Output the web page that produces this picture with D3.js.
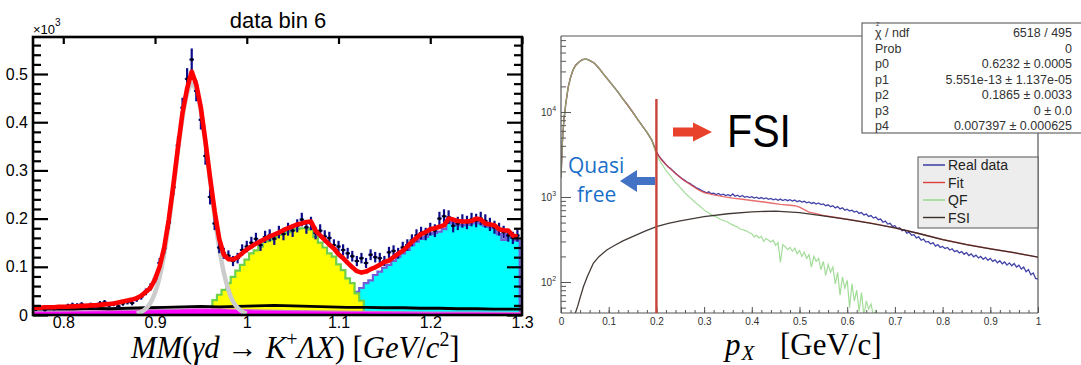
<!DOCTYPE html>
<html><head><meta charset="utf-8">
<script src="https://cdn.jsdelivr.net/npm/d3@7/dist/d3.min.js"></script>
<style>html,body{margin:0;padding:0;background:#fff;overflow:hidden}</style>
</head><body><svg id="chart" width="1081" height="365"></svg>
<script>
// ================= LEFT PANEL DATA (missing mass, bins of 0.005) =================
const mmFirstCenter = 0.770;
const mmBinWidth = 0.005;
const mmData = [
 0.012,0.014,0.011,0.015,0.013,0.016,
 0.014,0.019,0.021,0.020,0.022,0.019,0.021,0.017,0.024,0.026,
 0.020,0.023,0.018,0.024,0.027,0.025,0.033,0.038,0.048,0.058,
 0.075,0.108,0.138,0.192,0.265,0.352,0.430,0.490,0.530,0.465,
 0.405,0.330,0.245,0.190,0.140,0.128,0.123,0.112,0.118,0.135,
 0.142,0.150,0.158,0.145,0.162,0.165,0.158,0.172,0.168,0.178,
 0.175,0.185,0.198,0.182,0.190,0.170,0.175,0.163,0.160,0.145,
 0.142,0.135,0.128,0.122,0.112,0.118,0.108,0.125,0.120,0.118,
 0.112,0.130,0.133,0.128,0.140,0.145,0.155,0.165,0.170,0.168,
 0.178,0.175,0.200,0.205,0.203,0.185,0.190,0.195,0.192,0.198,
 0.196,0.200,0.195,0.188,0.182,0.178,0.172,0.165,0.160,0.165];
const mmFit = [
 0.015,0.015,0.016,0.016,0.016,0.017,
 0.017,0.017,0.018,0.018,0.019,0.019,0.020,0.020,0.021,0.022,
 0.023,0.024,0.026,0.028,0.030,0.032,0.035,0.040,0.048,0.056,
 0.074,0.100,0.140,0.198,0.270,0.348,0.420,0.470,0.505,0.478,
 0.430,0.360,0.285,0.215,0.158,0.125,0.116,0.115,0.120,0.128,
 0.136,0.142,0.148,0.153,0.158,0.163,0.167,0.171,0.176,0.180,
 0.184,0.188,0.190,0.193,0.194,0.175,0.165,0.156,0.146,0.138,
 0.126,0.118,0.108,0.099,0.091,0.088,0.090,0.095,0.099,0.104,
 0.110,0.113,0.120,0.127,0.133,0.142,0.152,0.160,0.168,0.172,
 0.178,0.180,0.183,0.186,0.200,0.198,0.195,0.194,0.194,0.195,
 0.200,0.198,0.190,0.188,0.186,0.178,0.176,0.175,0.165,0.162];
const yellowFirstCenter = 0.965;
const yellowVals = [0.031,0.042,0.052,0.066,0.079,0.092,0.104,0.115,0.128,0.134,0.142,0.152,0.156,0.162,0.166,0.170,0.172,0.176,0.178,0.180,0.180,0.177,0.162,0.150,0.140,0.128,0.121,0.105,0.093,0.076,0.066,0.045,0.030];
const cyanFirstCenter = 1.085;
const cyanVals = [0.012,0.015,0.017,0.020,0.028,0.038,0.042,0.048,0.056,0.066,0.072,0.083,0.090,0.098,0.104,0.112,0.121,0.128,0.135,0.145,0.152,0.158,0.162,0.168,0.170,0.173,0.178,0.194,0.190,0.187,0.186,0.187,0.190,0.194,0.190,0.185,0.183,0.180,0.168,0.156,0.168,0.160,0.155];
const gausFirst = 0.880;
const gausVals = [0.003,0.006,0.013,0.025,0.046,0.079,0.127,0.190,0.264,0.341,0.410,0.460,0.480,0.466,0.422,0.355,0.279,0.204,0.139,0.088,0.052,0.028,0.015,0.007,0.003];
const bkgX = [0.767,0.79,0.81,0.83,0.85,0.87,0.89,0.91,0.93,0.95,0.97,0.99,1.01,1.03,1.05,1.07,1.09,1.11,1.13,1.15,1.17,1.19,1.21,1.23,1.25,1.27,1.29,1.30];
const bkgY = [0.012,0.013,0.012,0.014,0.013,0.014,0.015,0.016,0.017,0.018,0.017,0.018,0.019,0.020,0.019,0.018,0.017,0.016,0.016,0.015,0.015,0.014,0.014,0.013,0.013,0.012,0.012,0.012];
const magX = [0.767,0.80,0.85,0.90,0.94,0.97,1.00,1.05,1.10,1.15,1.20,1.25,1.30];
const magY = [0.007,0.008,0.009,0.011,0.013,0.013,0.011,0.009,0.008,0.007,0.006,0.006,0.005];
const mmXTicks = [0.8,0.9,1.0,1.1,1.2,1.3];
const mmYTicks = [0,0.1,0.2,0.3,0.4,0.5];

// ================= RIGHT PANEL DATA (p_X, log scale) =================
// shared peak region where Real data, Fit and QF coincide
const peakPx  = [0,0.003,0.006,0.01,0.015,0.02,0.025,0.03,0.035,0.04,0.045,0.05,0.055,0.06,0.07,0.08,0.09,0.1,0.11,0.12,0.13,0.14,0.15,0.16,0.17,0.18,0.19];
const peakVal = [1700,4500,8000,12500,19500,25500,31000,35000,37500,39500,41200,41800,41500,40500,37500,32500,27500,23500,20000,17000,14200,12000,10000,8300,6900,5800,4700];
// real data from p=0.2 to 1.0 in 0.005 steps
const dataTailStart = 0.2;
const dataTailVal = [3400,3050,2800,2600,2420,2260,2150,2030,1900,1800,1710,1620,1560,1490,1450,1380,1330,1270,1240,1190,
 1160,1120,1150,1095,1110,1070,1100,1055,1080,1040,
 1065,1030,1085,1020,1050,1005,1040,990,1015,985,
 1010,970,995,960,985,950,975,940,960,925,
 950,915,945,910,935,905,930,895,920,880,
 905,870,890,855,875,840,860,825,850,815,
 830,790,810,770,790,745,770,725,745,700,
 720,685,700,665,680,640,655,615,630,590,
 605,565,580,540,550,505,520,480,490,450,
 460,425,435,400,410,375,385,355,360,330,
 340,310,320,295,300,280,290,265,275,255,
 262,248,255,238,246,228,235,220,228,212,
 222,205,214,198,207,192,200,185,195,180,
 190,175,182,168,178,164,172,158,168,155,
 165,150,158,142,150,132,140,122,128,110,
 108];
// QF from p=0.2 in 0.005 steps
const qfTailStart = 0.2;
const qfTailVal = [3150,2800,2500,2270,2050,1900,1750,1610,1480,1390,
 1290,1200,1120,1050,990,935,880,830,790,745,
 705,670,650,620,600,585,565,540,535,515,
 505,485,470,455,445,420,415,405,395,380,
 370,340,355,330,345,300,325,310,295,310,
 270,290,170,275,260,240,255,230,250,215,
 235,200,225,190,210,150,200,175,190,140,
 175,120,160,130,150,95,130,70,115,85,
 105,50,95,60,80,45,75,40,60,48,
 55,40,46,35];
const fitTailPx  = [0.2,0.21,0.22,0.23,0.24,0.25,0.26,0.27,0.28,0.29,0.30,0.32,0.34,0.36,0.38,0.40,0.42,0.44,0.46,0.48,0.49,0.50,0.51,0.52,0.53,0.55,0.6,0.65,0.7,0.75,0.8,0.85,0.9,0.95,1.0];
const fitTailVal = [3350,2780,2400,2140,1890,1700,1540,1420,1300,1200,1130,1060,1010,970,940,910,880,850,820,800,790,760,710,665,645,605,548,492,433,372,316,276,246,221,196];
const fsiPx  = [0.03,0.035,0.04,0.047,0.055,0.068,0.08,0.096,0.11,0.13,0.15,0.175,0.2,0.225,0.25,0.3,0.35,0.4,0.45,0.5,0.55,0.6,0.65,0.7,0.75,0.8,0.85,0.9,0.95,1.0];
const fsiVal = [43,52,65,88,115,167,200,238,265,305,341,395,447,490,525,587,635,670,682,655,600,545,490,432,372,316,276,246,221,196];
const pxTicks = [0,0.1,0.2,0.3,0.4,0.5,0.6,0.7,0.8,0.9,1.0];
const logMajor = [100,1000,10000];
const statsRows = [["chi","6518 / 495"],["Prob","0"],["p0","0.6232 ± 0.0005"],["p1","5.551e-13 ± 1.137e-05"],["p2","0.1865 ± 0.0033"],["p3","0 ± 0.0"],["p4","0.007397 ± 0.000625"]];
const legendItems = [["Real data","#2d2d9e"],["Fit","#e03c3c"],["QF","#8fd884"],["FSI","#3a302a"]];
const cutPx = 0.2;

// ================= DRAWING =================
const svg = d3.select("#chart");
const defs = svg.append("defs");
const SANS = "'Liberation Sans', Arial, Helvetica, sans-serif";
const SERIF = "'Liberation Serif', 'Times New Roman', serif";

// ---------- left ----------
const xL = d3.scaleLinear().domain([0.767,1.3]).range([33,522]);
const yL = d3.scaleLinear().domain([0,0.5768]).range([315,37]);
defs.append("clipPath").attr("id","clipL").append("rect").attr("x",33).attr("y",37).attr("width",489).attr("height",278);
const gL = svg.append("g").attr("clip-path","url(#clipL)");

function stepPoints(first, vals){
  const pts=[[first-mmBinWidth/2,0]];
  vals.forEach((v,i)=>{const c=first+mmBinWidth*i; pts.push([c-mmBinWidth/2,v],[c+mmBinWidth/2,v]);});
  pts.push([first+mmBinWidth*(vals.length-1)+mmBinWidth/2,0]);
  return pts;
}
const areaL = d3.area().x(d=>xL(d[0])).y0(yL(0)).y1(d=>yL(d[1]));
const lineL = d3.line().x(d=>xL(d[0])).y(d=>yL(d[1]));

const cyanPts = stepPoints(cyanFirstCenter, cyanVals);
gL.append("path").attr("d",areaL(cyanPts)).attr("fill","#00ffff");
gL.append("path").attr("d",lineL(cyanPts)).attr("fill","none").attr("stroke","#6f5fd9").attr("stroke-width",2.2);
const yelPts = stepPoints(yellowFirstCenter, yellowVals);
gL.append("path").attr("d",areaL(yelPts)).attr("fill","#ffff00");
gL.append("path").attr("d",lineL(yelPts)).attr("fill","none").attr("stroke","#6fd14a").attr("stroke-width",2.2);

const magPts = magX.map((x,i)=>[x,magY[i]]);
gL.append("path").attr("d",areaL(magPts)).attr("fill","#ff00ff");
gL.append("path").attr("d",lineL(magPts)).attr("fill","none").attr("stroke","#d070d0").attr("stroke-width",1.2);
const bkgPts = bkgX.map((x,i)=>[x,bkgY[i]]);
gL.append("path").attr("d",lineL(bkgPts)).attr("fill","none").attr("stroke","#000").attr("stroke-width",2.8);

const gausPts = gausVals.map((v,i)=>[gausFirst+mmBinWidth*i, v]);
gL.append("path").attr("d",d3.line().x(d=>xL(d[0])).y(d=>yL(d[1])).curve(d3.curveCatmullRom)(gausPts)).attr("fill","none").attr("stroke","#cccccc").attr("stroke-width",4.5);

// data points with Poisson errors
const dataPts = mmData.map((v,i)=>({c:mmFirstCenter+mmBinWidth*i, v, e:Math.sqrt(v*1000)/1000}));
const gD = gL.append("g");
gD.selectAll("line.ev").data(dataPts).join("line").attr("class","ev")
  .attr("x1",d=>xL(d.c)).attr("x2",d=>xL(d.c)).attr("y1",d=>yL(d.v-d.e)).attr("y2",d=>yL(d.v+d.e))
  .attr("stroke","#0c0c8a").attr("stroke-width",2.2);
gD.selectAll("line.eh").data(dataPts).join("line").attr("class","eh")
  .attr("x1",d=>xL(d.c-mmBinWidth/2)).attr("x2",d=>xL(d.c+mmBinWidth/2)).attr("y1",d=>yL(d.v)).attr("y2",d=>yL(d.v))
  .attr("stroke","#0c0c8a").attr("stroke-width",2);
gD.selectAll("circle").data(dataPts).join("circle").attr("cx",d=>xL(d.c)).attr("cy",d=>yL(d.v)).attr("r",1.5).attr("fill","#000");

const fitPts = mmFit.map((v,i)=>[mmFirstCenter+mmBinWidth*i, v]);
fitPts.unshift([0.765, mmFit[0]]);
gL.append("path").attr("d",lineL(fitPts)).attr("fill","none").attr("stroke","#ff0000").attr("stroke-width",4.6).attr("stroke-linejoin","round");

// frame + axes left
const minorL = d3.range(0,0.577,0.02).filter(v=>Math.abs(v*10-Math.round(v*10))>1e-6);
function styleAxis(g,color,w,keepText){
  g.select(".domain").remove();
  g.selectAll(".tick line").attr("stroke",color).attr("stroke-width",w);
  if(!keepText) g.selectAll("text").remove();
}
svg.append("g").attr("transform","translate(33,0)").call(d3.axisLeft(yL).tickValues(minorL).tickSize(-8))
  .call(g=>styleAxis(g,"#000",2.2));
svg.append("g").attr("transform","translate(33,0)").call(d3.axisLeft(yL).tickValues(mmYTicks).tickSize(-15).tickPadding(5).tickFormat(d=>d===0?"0":d.toFixed(1)))
  .call(g=>{styleAxis(g,"#000",2.2,true); g.selectAll("text").attr("font-family",SANS).attr("font-size",16).attr("fill","#000");});
svg.append("g").attr("transform","translate(522,0)").call(d3.axisRight(yL).tickValues(minorL).tickSize(-8))
  .call(g=>styleAxis(g,"#000",2.2));
svg.append("g").attr("transform","translate(522,0)").call(d3.axisRight(yL).tickValues(mmYTicks).tickSize(-15))
  .call(g=>styleAxis(g,"#000",2.2));
svg.append("g").attr("transform","translate(0,37)").call(d3.axisTop(xL).tickValues(mmXTicks).tickSize(-7))
  .call(g=>styleAxis(g,"#000",2.2));
svg.append("g").attr("transform","translate(0,315)").call(d3.axisBottom(xL).tickValues(mmXTicks).tickSize(0).tickPadding(2).tickFormat(d=>d===1?"1":d.toFixed(1)))
  .call(g=>{g.select(".domain").remove(); g.selectAll("text").attr("font-family",SANS).attr("font-size",16).attr("fill","#000");});
svg.append("rect").attr("x",33).attr("y",37).attr("width",489).attr("height",278).attr("fill","none").attr("stroke","#000").attr("stroke-width",2.6);

svg.append("text").attr("x",278).attr("y",28).attr("text-anchor","middle").attr("font-family",SANS).attr("font-size",22).text("data bin 6");
const x10 = svg.append("text").attr("x",33).attr("y",34).attr("font-family",SANS).attr("font-size",13);
x10.append("tspan").text("×10");
x10.append("tspan").attr("font-size",10).attr("dy",-8).text("3");

function richText(x,y,parts,size,family,targetW){
  const t = svg.append("text").attr("x",x).attr("y",y).attr("font-family",family).attr("font-size",size).attr("fill","#000");
  let off=0;
  parts.forEach(p=>{
    const s=t.append("tspan").text(p.t);
    if(p.it) s.attr("font-style","italic");
    let target = p.sup? -0.4*size : (p.sub? 0.22*size : 0);
    if(p.sup||p.sub) s.attr("font-size",size*0.65);
    s.attr("dy",target-off); off=target;
    if(p.dx) s.attr("dx",p.dx);
  });
  const w = t.node().getBBox().width;
  const k = targetW/w;
  t.attr("transform",`translate(${x},${y}) scale(${k}) translate(${-x},${-y})`);
  return t;
}
richText(131,358,[{t:"MM",it:1},{t:"("},{t:"γd",it:1},{t:" → "},{t:"K",it:1},{t:"+",sup:1},{t:"Λ",it:1},{t:"X",it:1},{t:")"},{t:" ["},{t:"GeV",it:1},{t:"/"},{t:"c",it:1},{t:"2",sup:1},{t:"]"}],24,SERIF,330);

// ---------- right ----------
const xR = d3.scaleLinear().domain([0,1]).range([561,1038]);
const yR = d3.scaleLog().domain([43.2,78300]).range([313,36]);
defs.append("clipPath").attr("id","clipR").append("rect").attr("x",561).attr("y",36).attr("width",477).attr("height",277);
const gR = svg.append("g").attr("clip-path","url(#clipR)");
const lineR = d3.line().x(d=>xR(d[0])).y(d=>yR(d[1]));

const peakPts = peakPx.map((p,i)=>[p,peakVal[i]]);
const dataR = peakPts.concat(dataTailVal.map((v,i)=>[dataTailStart+0.005*i, v]));
const qfR = peakPts.concat(qfTailVal.map((v,i)=>[qfTailStart+0.005*i, v]));
const fitR = peakPts.concat(fitTailPx.map((p,i)=>[p,fitTailVal[i]]));
const fsiR = fsiPx.map((p,i)=>[p,fsiVal[i]]);

gR.append("path").attr("d",lineR(dataR)).attr("fill","none").attr("stroke","#2d2d9e").attr("stroke-width",1.3).attr("opacity",0.9);
gR.append("path").attr("d",lineR(fitR)).attr("fill","none").attr("stroke","#e03c3c").attr("stroke-width",1.4).attr("opacity",0.75);
gR.append("path").attr("d",lineR(qfR)).attr("fill","none").attr("stroke","#7ccf6e").attr("stroke-width",1.2).attr("opacity",0.7);
gR.append("path").attr("d",lineR(fsiR)).attr("fill","none").attr("stroke","#2e2520").attr("stroke-width",1.3).attr("opacity",0.9);

// axes right
const pxMinor = d3.range(0,1.0001,0.02);
svg.append("g").attr("transform","translate(0,313)").call(d3.axisBottom(xR).tickValues(pxMinor).tickSize(-3))
  .call(g=>styleAxis(g,"#555",1));
svg.append("g").attr("transform","translate(0,313)").call(d3.axisBottom(xR).tickValues(pxTicks).tickSize(-6).tickPadding(5).tickFormat(d=>d===0?"0":(d===1?"1":d.toFixed(1))))
  .call(g=>{styleAxis(g,"#555",1,true); g.selectAll("text").attr("font-family",SANS).attr("font-size",10).attr("fill","#333");});
const logMinor = [];
[10,100,1000,10000].forEach(b=>{for(let m=2;m<=9;m++){const v=b*m; if(v>43.2&&v<78300) logMinor.push(v);}});
svg.append("g").attr("transform","translate(561,0)").call(d3.axisLeft(yR).tickValues(logMinor).tickSize(-5))
  .call(g=>styleAxis(g,"#555",1));
svg.append("g").attr("transform","translate(561,0)").call(d3.axisLeft(yR).tickValues(logMajor).tickSize(-10))
  .call(g=>styleAxis(g,"#555",1));
logMajor.forEach(v=>{
  const t=svg.append("text").attr("x",541).attr("y",yR(v)+4).attr("font-family",SANS).attr("font-size",10).attr("fill","#333");
  t.append("tspan").text("10");
  t.append("tspan").attr("font-size",7).attr("dy",-5).text(String(Math.round(Math.log10(v))));
});
// frame
const fr = svg.append("g").attr("stroke","#555").attr("stroke-width",1.2);
fr.append("line").attr("x1",561).attr("x2",561).attr("y1",36).attr("y2",313);
fr.append("line").attr("x1",561).attr("x2",1038).attr("y1",313).attr("y2",313);
fr.append("line").attr("x1",561).attr("x2",1038).attr("y1",36).attr("y2",36);
fr.append("line").attr("x1",1038).attr("x2",1038).attr("y1",36).attr("y2",313);

// cut line
svg.append("line").attr("x1",xR(cutPx)).attr("x2",xR(cutPx)).attr("y1",99).attr("y2",313).attr("stroke","#c8443a").attr("stroke-width",2.4);

// annotations
svg.append("polygon").attr("points","673,127.5 693,127.5 693,122.5 712,132 693,141.5 693,136.5 673,136.5").attr("fill","#e8412c");
svg.append("text").attr("x",727).attr("y",147).attr("font-family",SANS).attr("font-size",46).attr("textLength",64).attr("lengthAdjust","spacingAndGlyphs").text("FSI");
svg.append("polygon").attr("points","655,177 637,177 637,170 620,181 637,192 637,185 655,185").attr("fill","#4472c4");
svg.append("text").attr("x",568).attr("y",173).attr("font-family","'Open Sans', sans-serif").attr("font-size",21).attr("fill","#1a6fc9").text("Quasi");
svg.append("text").attr("x",577).attr("y",202).attr("font-family","'Open Sans', sans-serif").attr("font-size",21).attr("fill","#1a6fc9").text("free");

// legend
const lg = svg.append("g");
lg.append("rect").attr("x",918).attr("y",157).attr("width",120).attr("height",71).attr("fill","#ededed").attr("stroke","#555").attr("stroke-width",1);
legendItems.forEach((d,i)=>{
  const y = 165 + i*17.5;
  lg.append("line").attr("x1",923).attr("x2",945).attr("y1",y).attr("y2",y).attr("stroke",d[1]).attr("stroke-width",1.4);
  lg.append("text").attr("x",948).attr("y",y+5).attr("font-family",SANS).attr("font-size",14).attr("fill","#222").text(d[0]);
});

// stats box
const sb = svg.append("g");
sb.append("rect").attr("x",862).attr("y",23).attr("width",240).attr("height",110).attr("fill","#fff").attr("stroke","#666").attr("stroke-width",1.2);
statsRows.forEach((r,i)=>{
  const y = 37 + i*15.5;
  if(r[0]==="chi"){
    sb.append("text").attr("x",875).attr("y",y).attr("font-family",SANS).attr("font-size",12.5).attr("fill","#333").text("χ");
    sb.append("text").attr("x",876).attr("y",y-11).attr("font-family",SANS).attr("font-size",6).attr("fill","#333").text("2");
    sb.append("text").attr("x",885).attr("y",y).attr("font-family",SANS).attr("font-size",12.5).attr("fill","#333").text("/ ndf");
  } else {
    sb.append("text").attr("x",875).attr("y",y).attr("font-family",SANS).attr("font-size",12.5).attr("fill","#333").text(r[0]);
  }
  sb.append("text").attr("x",1072).attr("y",y).attr("text-anchor","end").attr("font-family",SANS).attr("font-size",12.5).attr("fill","#333").text(r[1]);
});

// right x label
const pl = svg.append("text").attr("x",725).attr("y",355).attr("font-family",SERIF).attr("font-size",31);
pl.append("tspan").attr("font-style","italic").text("p");
pl.append("tspan").attr("font-style","italic").attr("font-size",21).attr("dy",5).attr("dx",1).text("X");
svg.append("text").attr("x",780).attr("y",355).attr("font-family",SERIF).attr("font-size",31).text("[GeV/c]");
</script></body></html>
